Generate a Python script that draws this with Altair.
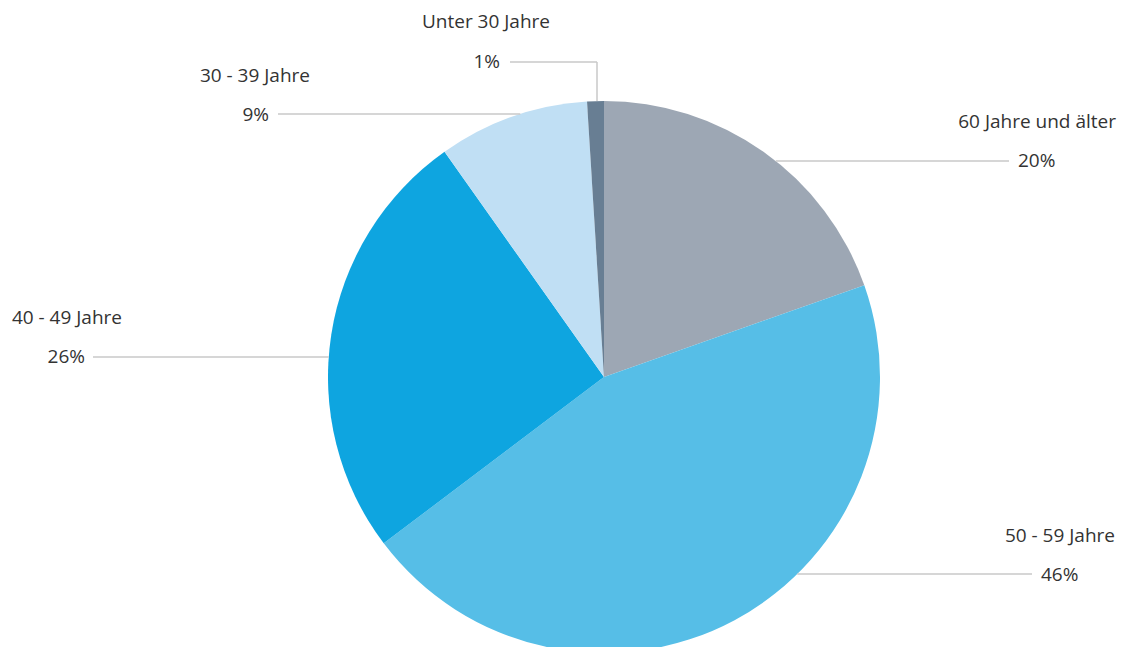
import math
import altair as alt
import pandas as pd

# ---- data ----
categories = ["60 Jahre und älter", "50 - 59 Jahre", "40 - 49 Jahre", "30 - 39 Jahre", "Unter 30 Jahre"]
values = [20, 46, 26, 9, 1]
pct_labels = ["20%", "46%", "26%", "9%", "1%"]
colors = ["#9da7b4", "#56bee7", "#0ea5e0", "#c0dff4", "#687e93"]

# ---- layout (chart pixel coordinates = page pixel - 8) ----
W, H = 1109, 639
OFF = 8
CX, CY, R = 604 - OFF, 377 - OFF, 276
FONT = "Open Sans"

# category label anchor (right aligned), page coords
cat_x = [v - OFF for v in [1116, 1115, 122, 310, 550]]
cat_y = [v - OFF for v in [122, 536, 318, 76, 22]]
# percentage label anchor, page coords
pct_x = [v - OFF for v in [1018, 1041, 85, 269, 500]]
pct_y = [v - OFF for v in [161, 575, 357, 115, 62]]
pct_align = ["left", "left", "right", "right", "right"]
# leader line: outer end (page coords); side of pie
line_x = [v - OFF for v in [1009, 1032, 93, 278, 510]]
line_y = [v - OFF for v in [161, 574, 357, 114, 62]]
line_side = [1, 1, -1, -1, 0]
elbow_x = [None, None, None, None, 597 - OFF]

pie_df = pd.DataFrame({
    "category": categories,
    "value": values,
    "order": list(range(len(categories))),
})

text_rows = []
for i, c in enumerate(categories):
    text_rows.append({"t": c, "x": cat_x[i], "y": cat_y[i], "align": "right"})
    text_rows.append({"t": pct_labels[i], "x": pct_x[i], "y": pct_y[i], "align": pct_align[i]})
text_df = pd.DataFrame(text_rows)

seg_rows = []
for i in range(len(categories)):
    y = line_y[i]
    if line_side[i] == 0:
        ex = elbow_x[i]
        seg_rows.append({"x": line_x[i], "y": y, "x2": ex, "y2": y})
        top = CY - math.sqrt(R * R - (ex - CX) ** 2)
        seg_rows.append({"x": ex, "y": y, "x2": ex, "y2": top})
    else:
        edge = CX + line_side[i] * math.sqrt(R * R - (y - CY) ** 2)
        seg_rows.append({"x": line_x[i], "y": y, "x2": edge, "y2": y})
seg_df = pd.DataFrame(seg_rows)

xs = alt.Scale(domain=[0, W], range=[0, W])
ys = alt.Scale(domain=[0, H], range=[0, H])

pie = alt.Chart(pie_df).mark_arc(outerRadius=R, stroke=None).encode(
    theta=alt.Theta("value:Q", stack=True),
    color=alt.Color("category:N", scale=alt.Scale(domain=categories, range=colors), legend=None),
    order=alt.Order("order:Q"),
    x=alt.value(CX),
    y=alt.value(CY),
)

lines = alt.Chart(seg_df).mark_rule(color="#c8c8c8", strokeWidth=1.5).encode(
    x=alt.X("x:Q", scale=xs, axis=None),
    y=alt.Y("y:Q", scale=ys, axis=None),
    x2="x2:Q",
    y2="y2:Q",
)

def text_layer(align):
    return alt.Chart(text_df[text_df["align"] == align]).mark_text(
        align=align, baseline="middle", font=FONT, fontSize=19, color="#333333"
    ).encode(
        x=alt.X("x:Q", scale=xs, axis=None),
        y=alt.Y("y:Q", scale=ys, axis=None),
        text="t:N",
    )

chart = alt.layer(pie, lines, text_layer("right"), text_layer("left")).properties(
    width=W, height=H, padding=0, autosize=alt.AutoSizeParams(type="none")
).configure_view(stroke=None)

chart.save("out.html", embed_options={"renderer": "svg", "actions": False})
